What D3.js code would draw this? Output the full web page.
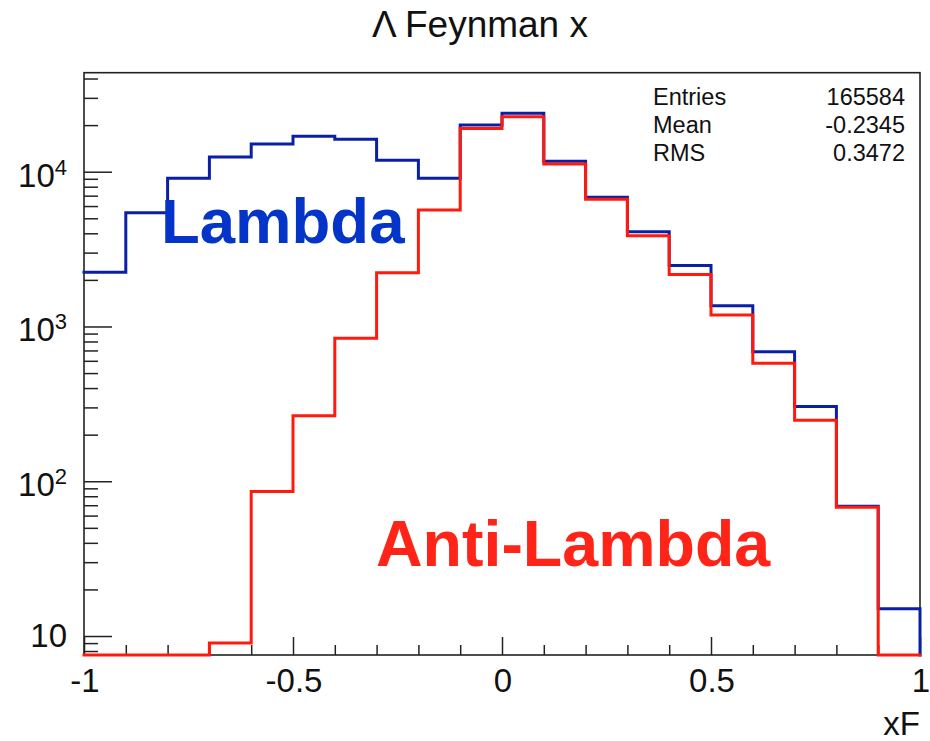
<!DOCTYPE html>
<html>
<head>
<meta charset="utf-8">
<script src="https://cdn.jsdelivr.net/npm/d3@7"></script>
<style>
  html, body { margin: 0; padding: 0; background: #fff; }
  svg { display: block; font-family: "Liberation Sans", Arial, Helvetica, sans-serif; }
</style>
</head>
<body>
<svg id="chart" width="930" height="741"></svg>
<script>
// ---- data ----
const binEdges = [-1, -0.9, -0.8, -0.7, -0.6, -0.5, -0.4, -0.3, -0.2, -0.1, 0,
                  0.1, 0.2, 0.3, 0.4, 0.5, 0.6, 0.7, 0.8, 0.9, 1];
const lambdaCounts = [2240, 5430, 9060, 12450, 15100, 16940, 16190, 11850, 9060, 20050,
                      23830, 11670, 6840, 4090, 2480, 1362, 687, 304, 69, 15];
const antiLambdaCounts = [0, 0, 0, 9, 86, 265, 839, 2220, 5660, 19050,
                          22640, 11210, 6640, 3860, 2170, 1187, 578, 248, 68, 0];
const xMajorTicks = [-1, -0.5, 0, 0.5, 1];
const xMajorLabels = ["-1", "-0.5", "0", "0.5", "1"];
const xMinorTicks = [-0.9, -0.8, -0.7, -0.6, -0.4, -0.3, -0.2, -0.1, 0.1, 0.2, 0.3, 0.4, 0.6, 0.7, 0.8, 0.9];
const yMajorTicks = [10, 100, 1000, 10000];
const yMajorExponents = ["", "2", "3", "4"];
const yMinorTicks = [8, 9, 20, 30, 40, 50, 60, 70, 80, 90,
                     200, 300, 400, 500, 600, 700, 800, 900,
                     2000, 3000, 4000, 5000, 6000, 7000, 8000, 9000,
                     20000, 30000, 40000];
const statsNames = ["Entries", "Mean", "RMS"];
const statsValues = ["165584", "-0.2345", "0.3472"];
const titleText = "\u039B Feynman x";
const xAxisTitle = "xF";
const seriesLabels = ["Lambda", "Anti-Lambda"];

// ---- layout ----
const L = 84, R = 920, T = 72.7, B = 655;
const svg = d3.select("#chart");

const x = d3.scaleLinear().domain([-1, 1]).range([L, R]);
const y = d3.scaleLog().domain([7.54, 43620]).range([B, T]);

// frame
svg.append("rect").attr("x", L).attr("y", T).attr("width", R - L).attr("height", B - T)
  .attr("fill", "none").attr("stroke", "#222").attr("stroke-width", 1.6);

// x axis ticks
const xMaj = svg.append("g").attr("transform", `translate(0,${B})`)
  .call(d3.axisBottom(x).tickValues(xMajorTicks).tickSize(-18).tickSizeOuter(0).tickFormat(""));
const xMin = svg.append("g").attr("transform", `translate(0,${B})`)
  .call(d3.axisBottom(x).tickValues(xMinorTicks).tickSize(-10).tickSizeOuter(0).tickFormat(""));
// y axis ticks
const yMaj = svg.append("g").attr("transform", `translate(${L},0)`)
  .call(d3.axisLeft(y).tickValues(yMajorTicks).tickSize(-28).tickSizeOuter(0).tickFormat(""));
const yMin = svg.append("g").attr("transform", `translate(${L},0)`)
  .call(d3.axisLeft(y).tickValues(yMinorTicks).tickSize(-14).tickSizeOuter(0).tickFormat(""));
[xMaj, xMin, yMaj, yMin].forEach(g => {
  g.select(".domain").remove();
  g.selectAll(".tick line").attr("stroke", "#222").attr("stroke-width", 1.5);
});

// x tick labels
svg.append("g").selectAll("text").data(xMajorTicks).join("text")
  .attr("x", d => x(d) + 1).attr("y", 692)
  .attr("text-anchor", "middle").attr("font-size", 33).attr("fill", "#111")
  .text((d, i) => xMajorLabels[i]);

// y tick labels
const yl = svg.append("g").selectAll("text").data(yMajorTicks).join("text")
  .attr("x", 67).attr("text-anchor", "end").attr("fill", "#111");
yl.each(function (d, i) {
  const t = d3.select(this);
  const e = yMajorExponents[i];
  if (e === "") {
    t.attr("y", y(d) + 11).attr("font-size", 33).text("10");
  } else {
    t.attr("y", y(d) + 15).attr("font-size", 33);
    t.append("tspan").text("10");
    t.append("tspan").attr("font-size", 22).attr("dy", -12).text(e);
  }
});

// histograms
function stepPoints(counts) {
  const pts = [];
  counts.forEach((c, i) => {
    const yy = c > 0 ? y(c) : B;
    pts.push([x(binEdges[i]), yy]);
    pts.push([x(binEdges[i + 1]), yy]);
  });
  pts.push([x(binEdges[binEdges.length - 1]), B]);
  return pts;
}
const line = d3.line();
svg.append("path").attr("d", line(stepPoints(lambdaCounts)))
  .attr("fill", "none").attr("stroke", "#0a1fa8").attr("stroke-width", 3)
  .attr("stroke-linejoin", "miter").attr("stroke-linecap", "square");
svg.append("path").attr("d", line(stepPoints(antiLambdaCounts)))
  .attr("fill", "none").attr("stroke", "#ff1a0d").attr("stroke-width", 3)
  .attr("stroke-linejoin", "miter").attr("stroke-linecap", "square");

// title
svg.append("text").attr("x", 480).attr("y", 37).attr("text-anchor", "middle")
  .attr("font-size", 37).attr("fill", "#111").text(titleText);

// x axis title
svg.append("text").attr("x", 920).attr("y", 735).attr("text-anchor", "end")
  .attr("font-size", 33).attr("fill", "#111").text(xAxisTitle);

// stats box
const sg = svg.append("g").attr("font-size", 23.5).attr("fill", "#111");
const statsY = [105, 133, 161];
sg.selectAll("text.n").data(statsNames).join("text").attr("class", "n")
  .attr("x", 653).attr("y", (d, i) => statsY[i]).text(d => d);
sg.selectAll("text.v").data(statsValues).join("text").attr("class", "v")
  .attr("x", 905).attr("y", (d, i) => statsY[i]).attr("text-anchor", "end").text(d => d);

// series labels
svg.append("text").attr("x", 161).attr("y", 243).attr("font-size", 63.5).attr("font-weight", "bold")
  .attr("fill", "#0535c8").text(seriesLabels[0]);
svg.append("text").attr("x", 376).attr("y", 566).attr("font-size", 64.5).attr("font-weight", "bold")
  .attr("fill", "#ff2418").text(seriesLabels[1]);
</script>
</body>
</html>
